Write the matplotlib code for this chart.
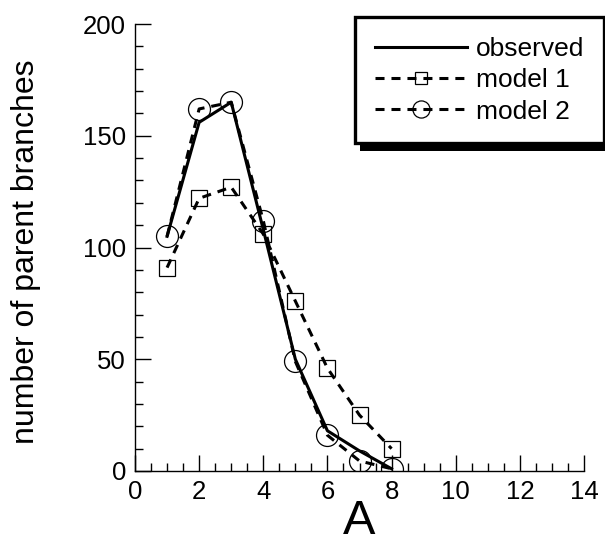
import matplotlib
matplotlib.use('Agg')
import matplotlib.pyplot as plt
from matplotlib.patches import Rectangle
from matplotlib.transforms import IdentityTransform
from matplotlib.ticker import MultipleLocator

plt.rcParams['font.family'] = ['Liberation Sans', 'DejaVu Sans']
plt.rcParams['lines.scale_dashes'] = False

# data
a_vals = [1, 2, 3, 4, 5, 6, 7, 8]
observed = [105, 156, 165, 108, 50, 18, 9, 1]
model1 = [91, 122, 127, 106, 76, 46, 25, 10]
model2 = [105, 162, 165, 112, 49, 16, 4.5, 1]

W, H = 605, 543
fig = plt.figure(figsize=(W / 100, H / 100), dpi=100)
ax = fig.add_axes([135 / W, 1 - 471 / H, 449 / W, 447 / H])

dash = (0, (6.5, 5))
ax.plot(a_vals, observed, color='black', lw=2.2, label='observed')
ax.plot(a_vals, model1, color='black', lw=2.2, ls=dash, marker='s', ms=11.5,
        mfc='none', mec='black', mew=0.9, label='model 1')
ax.plot(a_vals, model2, color='black', lw=2.2, ls=dash, marker='o', ms=15.8,
        mfc='none', mec='black', mew=0.9, label='model 2')

ax.set_xlim(0, 14)
ax.set_ylim(0, 200)
ax.xaxis.set_major_locator(MultipleLocator(2))
ax.xaxis.set_minor_locator(MultipleLocator(0.5))
ax.yaxis.set_major_locator(MultipleLocator(50))
ax.yaxis.set_minor_locator(MultipleLocator(10))
ax.tick_params(which='both', direction='in', width=1, top=False, right=False)
ax.tick_params(which='major', length=11.5, labelsize=18.5, pad=6.5)
ax.tick_params(which='minor', length=5.8)
for s in ['top', 'right']:
    ax.spines[s].set_visible(False)
for s in ['left', 'bottom']:
    ax.spines[s].set_linewidth(1)

ax.set_xlabel('A', fontsize=35)
ax.xaxis.set_label_coords(0.5, -0.062)
ax.set_ylabel('number of parent branches', fontsize=23)
ax.yaxis.set_label_coords(-0.21, 0.49)

leg = ax.legend(loc='upper left', bbox_to_anchor=(355 / W, 1 - 17 / H),
                bbox_transform=fig.transFigure, borderaxespad=0,
                fontsize=19, handlelength=3.5, handletextpad=0.34,
                borderpad=0.75, labelspacing=0.28, markerscale=0.78,
                fancybox=False, framealpha=1, edgecolor='black')
leg.get_frame().set_linewidth(2.4)

# hard drop shadow like the original
fig.canvas.draw()
bb = leg.get_frame().get_window_extent(fig.canvas.get_renderer())
shadow = Rectangle((bb.x0 + 5, bb.y0 - 8), bb.width, bb.height,
                   transform=IdentityTransform(), facecolor='black',
                   edgecolor='none', zorder=leg.get_zorder() - 0.1, clip_on=False)
ax.add_artist(shadow)

fig.savefig('out.png', dpi=100)
plt.close(fig)
